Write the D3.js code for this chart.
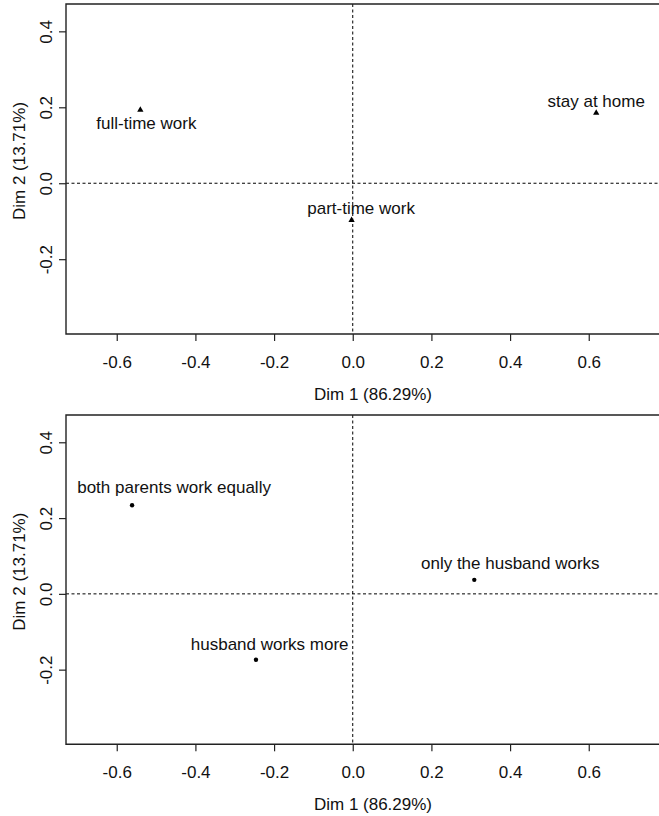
<!DOCTYPE html>
<html>
<head>
<meta charset="utf-8">
<script src="https://cdn.jsdelivr.net/npm/d3@7"></script>
<style>
  html, body { margin: 0; padding: 0; background: #fff; }
  svg { display: block; font-family: "Liberation Sans", Arial, Helvetica, sans-serif; }
</style>
</head>
<body>
<svg id="chart" width="659" height="816"></svg>
<script>
// Correspondence analysis factor map: employment categories (top) and
// household work arrangement categories (bottom) on the first two dimensions.

const xTicks = [-0.6, -0.4, -0.2, 0.0, 0.2, 0.4, 0.6];
const yTicks = [-0.2, 0.0, 0.2, 0.4];
const xTitle = "Dim 1 (86.29%)";
const yTitle = "Dim 2 (13.71%)";

// top panel: employment status
const workLabels = ["full-time work", "part-time work", "stay at home"];
const workDim1 = [-0.540, -0.003, 0.619];
const workDim2 = [0.193, -0.097, 0.185];

// bottom panel: who works in the household
const householdLabels = ["both parents work equally", "husband works more", "only the husband works"];
const householdDim1 = [-0.561, -0.246, 0.309];
const householdDim2 = [0.234, -0.174, 0.037];

// label placement relative to each point (px: horizontal centre shift, baseline shift)
const workLabelNudge = [[6, 19.5], [9.5, -6], [0, -6]];
const householdLabelNudge = [[42, -12], [13.7, -10], [36, -10.5]];

const svg = d3.select("#chart");
const fontSize = 17;

const xDomain = [-0.729, 0.832];
const yDomain = [-0.397, 0.472];

function panel(opts) {
  const { top, bottom, left, right, labels, dim1, dim2, nudge, marker, id } = opts;
  const x = d3.scaleLinear().domain(xDomain).range([left, right]);
  const y = d3.scaleLinear().domain(yDomain).range([bottom, top]);
  const g = svg.append("g");

  g.append("clipPath").attr("id", id)
    .append("rect").attr("x", left).attr("y", top)
    .attr("width", right - left).attr("height", bottom - top);

  const plot = g.append("g").attr("clip-path", `url(#${id})`);

  // reference lines through the origin
  plot.append("line")
    .attr("x1", left).attr("x2", right)
    .attr("y1", y(0)).attr("y2", y(0))
    .attr("stroke", "#000").attr("stroke-width", 1)
    .attr("stroke-dasharray", "3,2.5");
  plot.append("line")
    .attr("x1", x(0)).attr("x2", x(0))
    .attr("y1", top).attr("y2", bottom)
    .attr("stroke", "#000").attr("stroke-width", 1)
    .attr("stroke-dasharray", "3,2.5");

  // points
  const pts = labels.map((l, i) => ({ label: l, d1: dim1[i], d2: dim2[i], nudge: nudge[i] }));
  if (marker === "triangle") {
    plot.selectAll("path.pt").data(pts).enter().append("path")
      .attr("class", "pt")
      .attr("d", d3.symbol().type(d3.symbolTriangle).size(17))
      .attr("transform", d => `translate(${x(d.d1)},${y(d.d2)})`)
      .attr("fill", "#000");
  } else {
    plot.selectAll("circle.pt").data(pts).enter().append("circle")
      .attr("class", "pt")
      .attr("cx", d => x(d.d1)).attr("cy", d => y(d.d2))
      .attr("r", 2.2).attr("fill", "#000");
  }

  // point labels
  plot.selectAll("text.lab").data(pts).enter().append("text")
    .attr("class", "lab")
    .attr("x", d => x(d.d1) + d.nudge[0])
    .attr("y", d => y(d.d2) + d.nudge[1])
    .attr("text-anchor", "middle")
    .attr("font-size", fontSize)
    .attr("fill", "#111")
    .text(d => d.label);

  // frame (open on the right where the figure is cut)
  g.append("path")
    .attr("d", `M${right},${top}H${left}V${bottom}H${right}`)
    .attr("fill", "none").attr("stroke", "#222").attr("stroke-width", 1.4);

  // x axis
  const xAxis = d3.axisBottom(x).tickValues(xTicks).tickSize(7).tickSizeOuter(0)
    .tickFormat(d3.format(".1f")).tickPadding(0);
  const xa = g.append("g").attr("transform", `translate(0,${bottom})`).call(xAxis);
  xa.select(".domain").remove();
  xa.selectAll(".tick line").attr("stroke", "#222").attr("stroke-width", 1.2);
  xa.selectAll(".tick text")
    .attr("font-size", fontSize).attr("font-family", null).attr("fill", "#111")
    .attr("dy", null).attr("y", 34)
    .text(d => d3.format(".1f")(d).replace("−", "-"));

  // y axis with rotated labels
  const yAxis = d3.axisLeft(y).tickValues(yTicks).tickSize(7).tickSizeOuter(0).tickFormat(d3.format(".1f"));
  const ya = g.append("g").attr("transform", `translate(${left},0)`).call(yAxis);
  ya.select(".domain").remove();
  ya.selectAll(".tick line").attr("stroke", "#222").attr("stroke-width", 1.2);
  ya.selectAll(".tick text")
    .attr("font-size", fontSize).attr("font-family", null).attr("fill", "#111")
    .attr("x", null).attr("dy", null)
    .attr("text-anchor", "middle")
    .attr("transform", `translate(${51.5 - left},0) rotate(-90)`)
    .text(d => d3.format(".1f")(d).replace("−", "-"));

  // axis titles
  g.append("text")
    .attr("x", 373).attr("y", bottom + 66)
    .attr("text-anchor", "middle").attr("font-size", fontSize).attr("fill", "#111")
    .text(xTitle);
  g.append("text")
    .attr("transform", `translate(25,${(top + bottom) / 2 - 8}) rotate(-90)`)
    .attr("text-anchor", "middle").attr("font-size", fontSize).attr("fill", "#111")
    .text(yTitle);
}

panel({ id: "clipTop", top: 4, bottom: 334, left: 66, right: 680,
  labels: workLabels, dim1: workDim1, dim2: workDim2, nudge: workLabelNudge, marker: "triangle" });
panel({ id: "clipBottom", top: 415, bottom: 744.3, left: 66, right: 680,
  labels: householdLabels, dim1: householdDim1, dim2: householdDim2, nudge: householdLabelNudge, marker: "dot" });
</script>
</body>
</html>
